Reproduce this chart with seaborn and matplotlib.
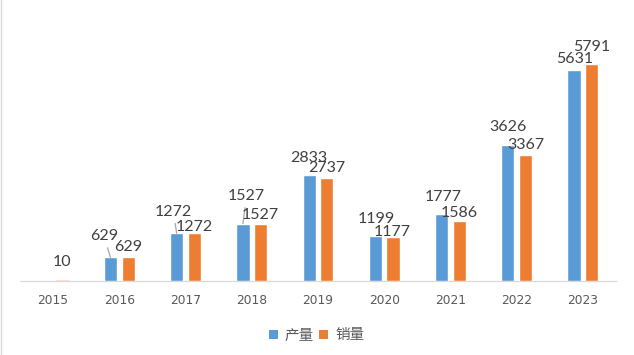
import numpy as np
import pandas as pd
import matplotlib
matplotlib.use("Agg")
import matplotlib.pyplot as plt
from matplotlib.patches import Patch
from matplotlib.lines import Line2D
import seaborn as sns

# ---- data ----
years = ["2015", "2016", "2017", "2018", "2019", "2020", "2021", "2022", "2023"]
production = [0, 629, 1272, 1527, 2833, 1199, 1777, 3626, 5631]   # 产量
sales = [10, 629, 1272, 1527, 2737, 1177, 1586, 3367, 5791]        # 销量
series_names = ["产量", "销量"]

# ---- styling / label placement (pixels: dx right, dy up from bar top to label centre) ----
colors = ["#5B9BD5", "#ED7D31"]
blue_offsets = [(0, 0), (-6.4, 23), (-3.3, 23.3), (3.7, 29.4), (0, 18.7),
                (0.6, 18.8), (1.2, 19), (0, 19.9), (0.9, 12.2)]
orange_offsets = [(0, 20), (0, 12), (0, 8), (0, 10), (0, 12),
                  (-1.4, 6.3), (0, 10.3), (0, 11.3), (0, 18.7)]
leader = [False, True, True, True, False, False, False, False, False]

sns.set_style("white")
plt.rcParams["font.family"] = ["DejaVu Sans", "Noto Sans CJK SC"]

df = pd.DataFrame({
    "year": years * 2,
    "value": production + sales,
    "series": [series_names[0]] * len(years) + [series_names[1]] * len(years),
})

fig = plt.figure(figsize=(6.34, 3.55), dpi=100)
ax = fig.add_axes([20 / 634, 74 / 355, 596 / 634, 262.7 / 355])

sns.barplot(data=df, x="year", y="value", hue="series", palette=colors,
            width=0.536, gap=0.254, errorbar=None, ax=ax, saturation=1,
            legend=False, zorder=3)

ax.set_ylim(0, 7000)
ax.set_xlim(-0.5, len(years) - 0.5)
ax.set_yticks([])
ax.set_xlabel("")
ax.set_ylabel("")
for s in ["top", "left", "right"]:
    ax.spines[s].set_visible(False)
ax.spines["bottom"].set_color("#D9D9D9")
ax.spines["bottom"].set_linewidth(0.9)
ax.spines["bottom"].set_zorder(1)
ax.tick_params(axis="x", length=0, pad=9.2, labelsize=8.8, labelcolor="#595959")
for t in ax.get_xticklabels():
    t.set_family("DejaVu Sans")

# bars above the axis line; very small bars get an outline so they stay visible
for cont in ax.containers:
    for bar in cont.patches:
        bar.set_zorder(3)
        if 0 < bar.get_height() < 100:
            bar.set_edgecolor(bar.get_facecolor())
            bar.set_linewidth(1.0)

digit_half = 5.8
for cont, offs in zip(ax.containers, [blue_offsets, orange_offsets]):
    for i, (bar, (dx, dy)) in enumerate(zip(cont.patches, offs)):
        h = bar.get_height()
        if h <= 0:
            continue
        x = bar.get_x() + bar.get_width() / 2
        kw = {}
        if offs is blue_offsets and leader[i]:
            kw["arrowprops"] = dict(arrowstyle="-", color="#A6A6A6", lw=0.9,
                                    shrinkA=1, shrinkB=0)
        ax.annotate(f"{int(h)}", xy=(x, h), xytext=(dx, dy - digit_half),
                    textcoords="offset pixels", ha="center", va="baseline",
                    fontsize=11.5, color="#404040", family=["Lato", "DejaVu Sans"],
                    annotation_clip=False, **kw)

handles = [Patch(facecolor=c, edgecolor="none") for c in colors]
fig.legend(handles, series_names, loc="center", bbox_to_anchor=(316.5 / 634, 1 - 335.5 / 355),
           ncol=2, frameon=False, handlelength=0.62, handleheight=0.62,
           handletextpad=0.45, columnspacing=0.4,
           prop={"family": ["Noto Sans CJK SC", "DejaVu Sans"], "size": 10.5},
           labelcolor="#595959")

fig.add_artist(Line2D([0.6 / 634, 0.6 / 634], [0, 1], color="#D9D9D9", lw=1,
                      transform=fig.transFigure))

fig.savefig("out.png", dpi=100, facecolor="white")
